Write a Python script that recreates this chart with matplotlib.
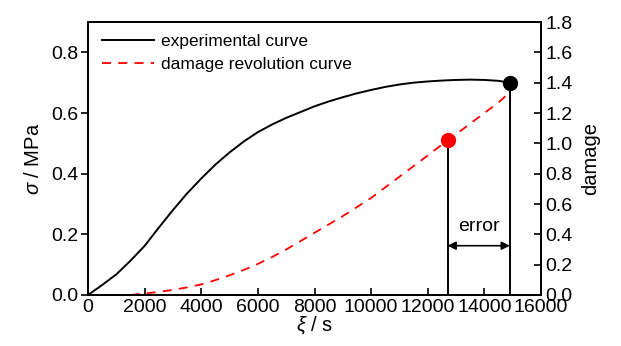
import matplotlib

matplotlib.use("Agg")
import matplotlib.pyplot as plt  # noqa: E402

plt.rcParams["font.family"] = ["Liberation Sans", "DejaVu Sans"]
plt.rcParams["mathtext.fontset"] = "custom"
plt.rcParams["mathtext.it"] = "Liberation Sans:italic"

# experimental stress curve (left axis, MPa)
exp_t = [0, 500, 1000, 1500, 2000, 2500, 3000, 3500, 4000, 4500, 5000, 5500,
         6000, 6500, 7000, 7500, 8000, 8500, 9000, 9500, 10000, 10500, 11000,
         11500, 12000, 12500, 13000, 13500, 14000, 14500, 14900]
exp_sigma = [0, 0.033, 0.068, 0.113, 0.162, 0.222, 0.28, 0.335, 0.384, 0.43,
             0.47, 0.506, 0.537, 0.562, 0.584, 0.603, 0.622, 0.638, 0.652,
             0.665, 0.676, 0.686, 0.694, 0.700, 0.704, 0.707, 0.709, 0.710,
             0.709, 0.706, 0.700]

# damage evolution curve (right axis)
dmg_t = [1500, 2000, 2500, 3000, 3500, 4000, 4500, 5000, 5500, 6000, 6500,
         7000, 7500, 8000, 8500, 9000, 9500, 10000, 10500, 11000, 11500,
         12000, 12700, 13000, 13500, 14000, 14500, 14800]
dmg_val = [0.0, 0.01, 0.02, 0.034, 0.05, 0.07, 0.098, 0.13, 0.165, 0.205,
           0.25, 0.30, 0.355, 0.41, 0.465, 0.52, 0.58, 0.64, 0.71, 0.78,
           0.85, 0.92, 1.02, 1.06, 1.13, 1.20, 1.27, 1.32]

pred_fail = (12700, 1.02)   # red point on damage curve
exp_fail = (14900, 0.70)    # black point on stress curve
arrow_y = 0.1625
error_label_y = 0.225

fig = plt.figure(figsize=(6.21, 3.46), dpi=100)
ax = fig.add_axes([0.1417, 0.1474, 0.7295, 0.789])
ax2 = ax.twinx()

ax.plot(exp_t, exp_sigma, color="black", lw=1.4, label="experimental curve")
ax2.plot(dmg_t, dmg_val, color="red", lw=1.3, ls=(0, (5, 4)),
         label="damage revolution curve")

ax2.plot(*pred_fail, "o", color="red", ms=10, zorder=5)
ax.plot(*exp_fail, "o", color="black", ms=10, zorder=5)
ax2.plot([pred_fail[0], pred_fail[0]], [0, pred_fail[1]], color="black", lw=1.4)
ax.plot([exp_fail[0], exp_fail[0]], [0, exp_fail[1]], color="black", lw=1.4)

ax.annotate("", xy=(pred_fail[0], arrow_y), xytext=(exp_fail[0], arrow_y),
            arrowprops=dict(arrowstyle="<|-|>", color="black", lw=1.2,
                            shrinkA=0, shrinkB=0, mutation_scale=12))
ax.text((pred_fail[0] + exp_fail[0]) / 2, error_label_y, "error",
        ha="center", va="center", fontsize=14)

ax.set_xlim(0, 16000)
ax.set_ylim(0, 0.9)
ax2.set_ylim(0, 1.8)
ax.set_xticks(range(0, 16001, 2000))
ax.set_yticks([0.0, 0.2, 0.4, 0.6, 0.8])
ax.set_yticklabels(["0.0", "0.2", "0.4", "0.6", "0.8"])
ax2.set_yticks([i / 5 for i in range(10)])
ax2.set_yticklabels([f"{i / 5:.1f}" for i in range(10)])

ax.tick_params(axis="x", direction="in", length=5, width=1.2, labelsize=14, pad=3)
ax.tick_params(axis="y", direction="out", length=5, width=1.2, labelsize=14, pad=2)
ax2.tick_params(axis="y", direction="in", length=5, width=1.2, labelsize=14, pad=3)
for a in (ax, ax2):
    for s in a.spines.values():
        s.set_linewidth(1.3)

ax.set_xlabel(r"$\mathit{\xi}$ / s", fontsize=14.5, labelpad=-1)
ax.set_ylabel(r"$\mathit{\sigma}$ / MPa", fontsize=14.5, labelpad=6)
ax2.set_ylabel("damage", fontsize=14.5, rotation=90, labelpad=6)

h1, l1 = ax.get_legend_handles_labels()
h2, l2 = ax2.get_legend_handles_labels()
ax.legend(h1 + h2, l1 + l2, loc="upper left", frameon=False, fontsize=12.5,
          handlelength=3.0, handletextpad=0.4, borderaxespad=0.3,
          labelspacing=0.45, bbox_to_anchor=(0.005, 1.0))

fig.savefig("out.png", dpi=100)
